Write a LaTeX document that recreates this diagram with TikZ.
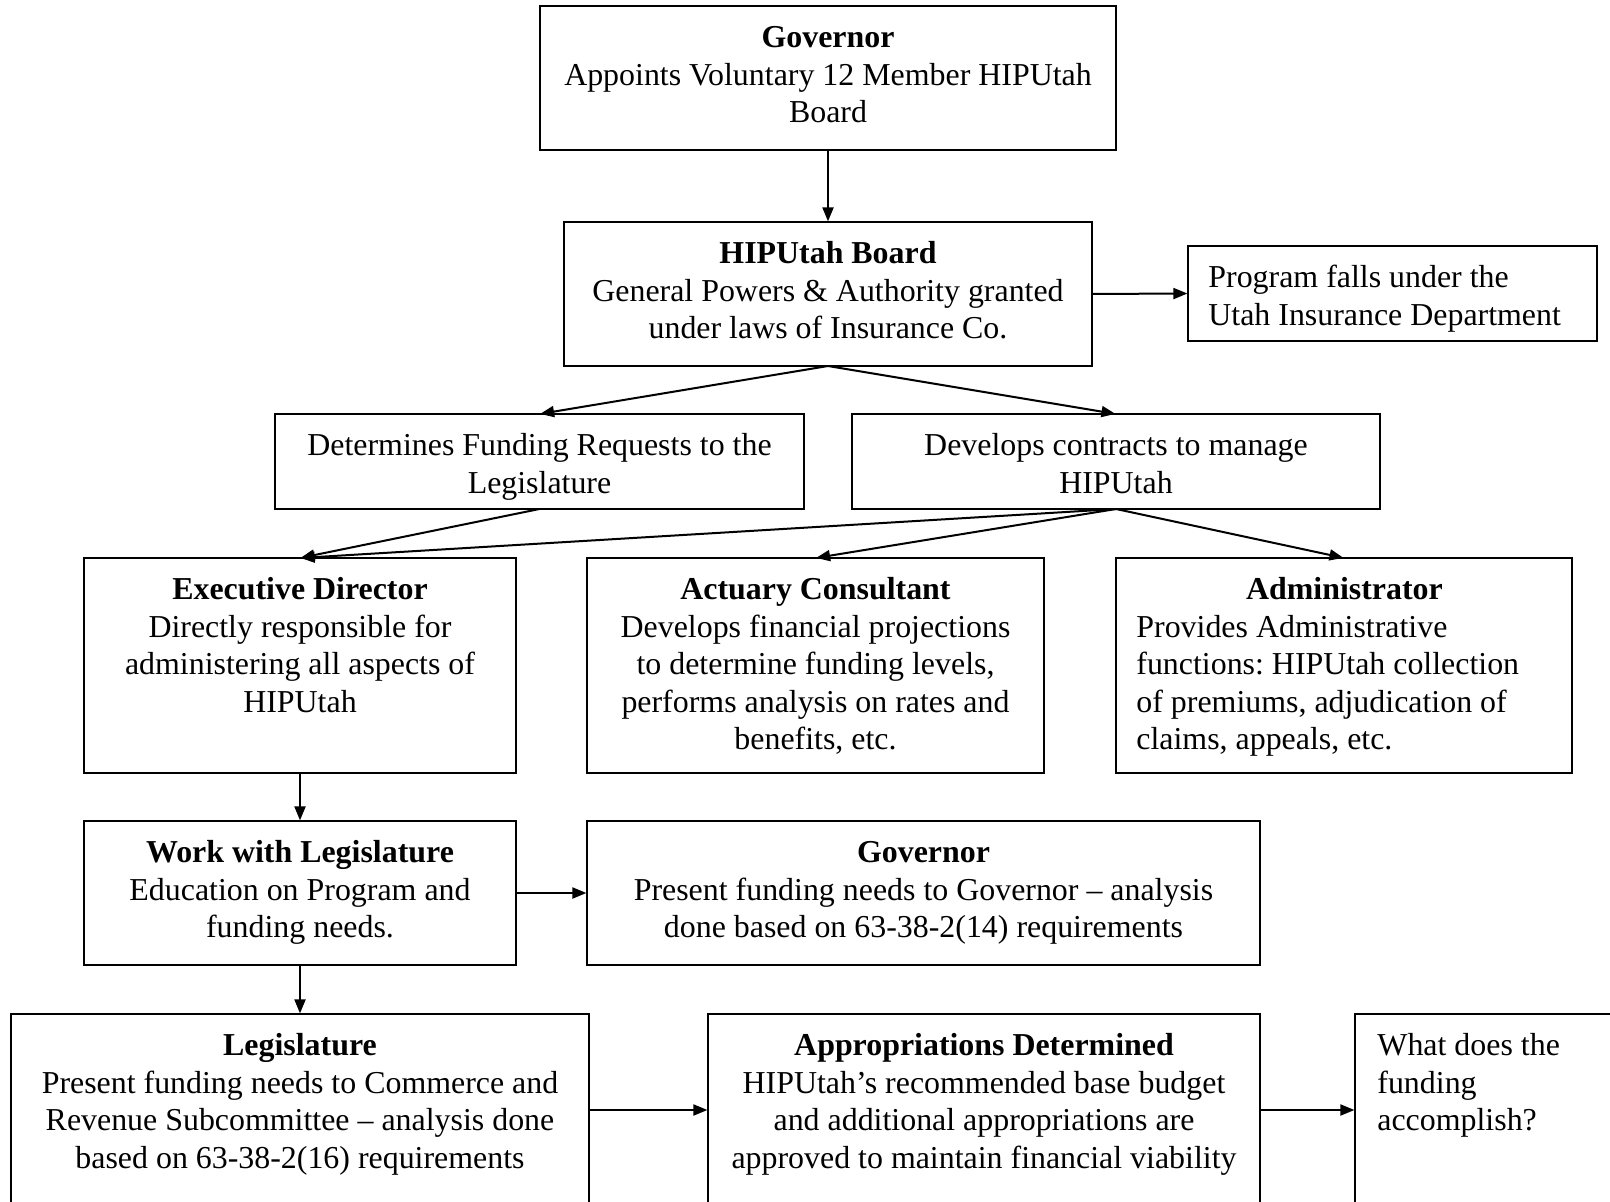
\documentclass[tikz,border=0pt]{standalone}
\usepackage{fontspec}
\setmainfont{Liberation Serif}
\usetikzlibrary{arrows.meta}
\newcommand\bx[5]{\node[boxst, minimum width={(#4-#2)*0.5pt}, minimum height={(#5-#3)*0.5pt}] (#1) at ({(#2+#4)/2},{(#3+#5)/2}) {};}
\tikzset{
  boxst/.style={draw, line width=1.25pt, inner sep=0pt, outer sep=0pt, rectangle},
  ctxt/.style={anchor=north, inner sep=0pt, align=center, font=\fontsize{15.95pt}{18.75pt}\selectfont\frenchspacing},
  ltxt/.style={anchor=north west, inner sep=0pt, align=flush left, font=\fontsize{15.95pt}{18.75pt}\selectfont\frenchspacing},
  conn/.style={line width=1pt, -{Triangle[length=7pt,width=5.5pt]}, shorten >=0.3pt}
}
\begin{document}
\begin{tikzpicture}[x=0.5pt,y=-0.5pt]
\useasboundingbox (0,0) rectangle (1610,1202);
\fill[white] (0,0) rectangle (1610,1202);
\clip (0,0) rectangle (1610,1202);
% boxes
\bx{gov1}{540}{6}{1116}{150}
\bx{board}{564}{222}{1092}{366}
\bx{prog}{1188}{246}{1597}{341}
\bx{fund}{275}{414}{804}{509}
\bx{contr}{852}{414}{1380}{509}
\bx{exec}{84}{558}{516}{773}
\bx{act}{587}{558}{1044}{773}
\bx{adm}{1116}{558}{1572}{773}
\bx{work}{84}{821}{516}{965}
\bx{gov2}{587}{821}{1260}{965}
\bx{legis}{11}{1014}{589}{1206}
\bx{appr}{708}{1014}{1260}{1206}
\bx{what}{1355}{1014}{1680}{1206}
% texts
\node[ctxt] (tgov1) at ([yshift=-7.6pt]gov1.north) {\strut\textbf{Governor}\\Appoints Voluntary 12 Member HIPUtah\\Board};
\node[ctxt] (tboard) at ([yshift=-7.6pt]board.north) {\strut\textbf{HIPUtah Board}\\General Powers \& Authority granted\\under laws of Insurance Co.};
\node[ltxt] (tprog) at ([xshift=10pt,yshift=-7.6pt]prog.north west) {\strut Program falls under the\\Utah Insurance Department};
\node[ctxt] (tfund) at ([yshift=-7.6pt]fund.north) {\strut Determines Funding Requests to the\\Legislature};
\node[ctxt] (tcontr) at ([yshift=-7.6pt]contr.north) {\strut Develops contracts to manage\\HIPUtah};
\node[ctxt] (texec) at ([yshift=-7.6pt]exec.north) {\strut\textbf{Executive Director}\\Directly responsible for\\administering all aspects of\\HIPUtah};
\node[ctxt] (tact) at ([yshift=-7.6pt]act.north) {\strut\textbf{Actuary Consultant}\\Develops financial projections\\to determine funding levels,\\performs analysis on rates and\\benefits, etc.};
\node[ltxt, text width=208pt] (tadm) at ([xshift=10pt,yshift=-7.6pt]adm.north west) {\strut\makebox[208pt]{\textbf{Administrator}}\\Provides Administrative\\functions: HIPUtah collection\\of premiums, adjudication of\\claims, appeals, etc.};
\node[ctxt] (twork) at ([yshift=-7.6pt]work.north) {\strut\textbf{Work with Legislature}\\Education on Program and\\funding needs.};
\node[ctxt] (tgov2) at ([yshift=-7.6pt]gov2.north) {\strut\textbf{Governor}\\Present funding needs to Governor – analysis\\done based on 63-38-2(14) requirements};
\node[ctxt] (tlegis) at ([yshift=-7.6pt]legis.north) {\strut\textbf{Legislature}\\Present funding needs to Commerce and\\Revenue Subcommittee – analysis done\\based on 63-38-2(16) requirements};
\node[ctxt] (tappr) at ([yshift=-7.6pt]appr.north) {\strut\textbf{Appropriations Determined}\\HIPUtah’s recommended base budget\\and additional appropriations are\\approved to maintain financial viability};
\node[ltxt] (twhat) at ([xshift=11pt,yshift=-7.6pt]what.north west) {\strut What does the\\funding\\accomplish?};
% connectors
\draw[conn] (gov1.south) -- (board.north);
\draw[conn] (board.east) -- (prog.west);
\draw[conn] (board.south) -- (fund.north);
\draw[conn] (board.south) -- (contr.north);
\draw[conn] (fund.south) -- (exec.north);
\draw[conn] (contr.south) -- (exec.north);
\draw[conn] (contr.south) -- (act.north);
\draw[conn] (contr.south) -- (adm.north);
\draw[conn] (exec.south) -- (work.north);
\draw[conn] (work.east) -- (gov2.west);
\draw[conn] (work.south) -- (work.south |- legis.north);
\draw[conn] (legis.east) -- (appr.west);
\draw[conn] (appr.east) -- (what.west);
\end{tikzpicture}
\end{document}
